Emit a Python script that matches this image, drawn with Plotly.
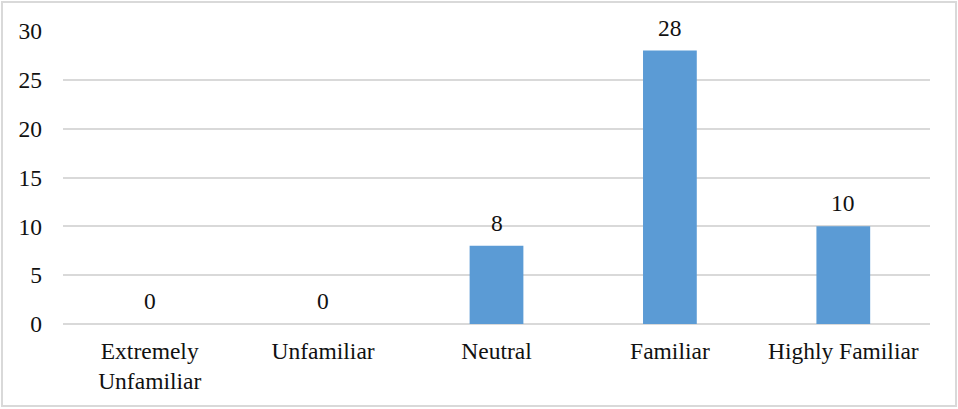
import plotly.graph_objects as go

categories = ["Extremely<br>Unfamiliar", "Unfamiliar", "Neutral", "Familiar", "Highly Familiar"]
counts = [0, 0, 8, 28, 10]
y_ticks = [0, 5, 10, 15, 20, 25, 30]

FONT = "Liberation Serif, Times New Roman"
FS = 23.5
BAR = "#5b9bd5"
GRID = "#d9d9d9"
INK = "#111111"

fig = go.Figure()
fig.add_trace(go.Bar(
    x=categories,
    y=counts,
    marker=dict(color=BAR, line=dict(width=0)),
    width=0.31,
    hoverinfo="x+y",
))

# value labels above each bar
for c, v in zip(categories, counts):
    fig.add_annotation(
        x=c, y=v, text=str(v), showarrow=False,
        yanchor="bottom", yshift=8,
        font=dict(family=FONT, size=FS, color=INK),
    )

W, H = 958, 409
ml, mr, mt, mb = 63, 28, 31, 85
pw, ph = W - ml - mr, H - mt - mb

# light frame around the whole chart
fig.add_shape(
    type="rect", xref="paper", yref="paper",
    x0=(2 - ml) / pw, x1=(956 - ml) / pw,
    y0=(mt + ph - 406) / ph, y1=(mt + ph - 2) / ph,
    line=dict(color=GRID, width=2), fillcolor="rgba(0,0,0,0)",
    layer="below",
)

fig.update_layout(
    width=W, height=H,
    margin=dict(l=ml, r=mr, t=mt, b=mb),
    paper_bgcolor="white", plot_bgcolor="white",
    font=dict(family=FONT, size=FS, color=INK),
    showlegend=False,
    bargap=0.69,
)
fig.update_xaxes(
    showgrid=False, showline=False, zeroline=False,
    tickfont=dict(family=FONT, size=FS, color=INK),
    ticks="", ticklabelstandoff=10,
)
fig.update_yaxes(
    range=[0, 30], tickvals=y_ticks,
    showgrid=True, gridcolor=GRID, gridwidth=2,
    zeroline=True, zerolinecolor=GRID, zerolinewidth=2,
    showline=False, ticks="", ticklabelstandoff=20,
    tickfont=dict(family=FONT, size=FS, color=INK),
)

fig.write_html("out.html")
